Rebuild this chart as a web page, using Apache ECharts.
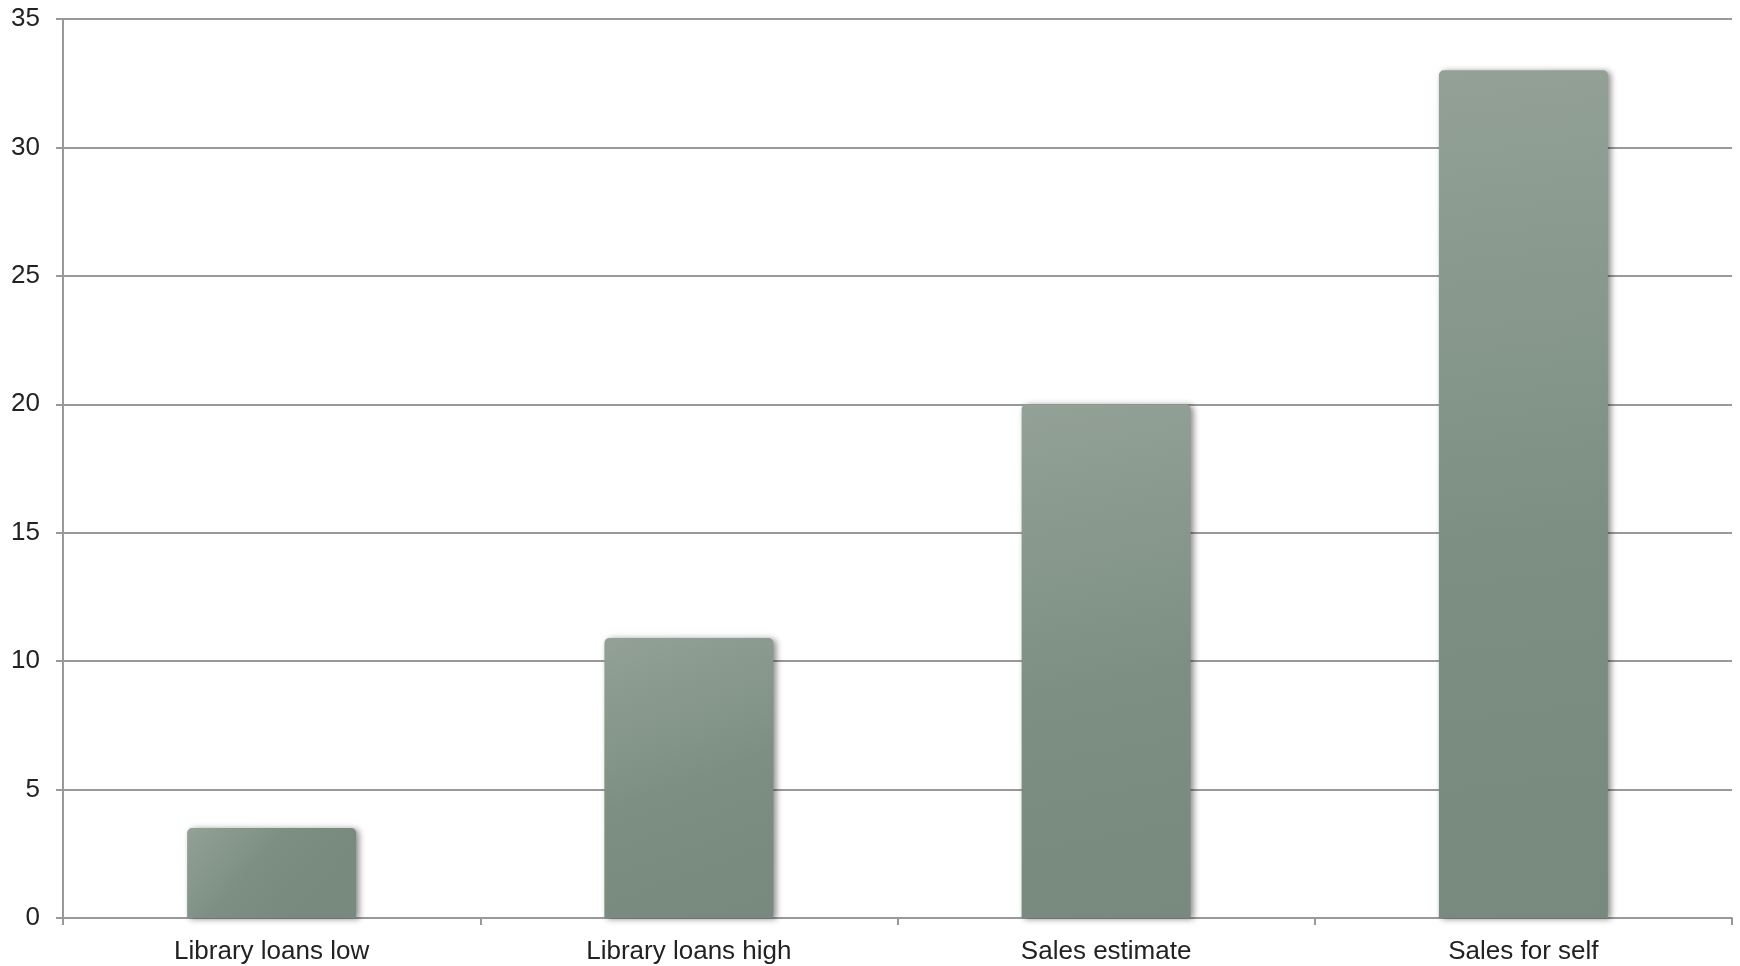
<!DOCTYPE html>
<html>
<head>
<meta charset="utf-8">
<script src="https://cdn.jsdelivr.net/npm/echarts@6/dist/echarts.min.js"></script>
<style>
html,body{margin:0;padding:0;background:#fff;}
#chart{width:1740px;height:966px;}
</style>
</head>
<body>
<div id="chart"></div>
<script>
const categories = ["Library loans low", "Library loans high", "Sales estimate", "Sales for self"];
const values = [3.5, 10.9, 20, 33];
const yTicks = [0, 5, 10, 15, 20, 25, 30, 35];

const chart = echarts.init(document.getElementById('chart'), null, {renderer: 'canvas'});
chart.setOption({
  animation: false,
  backgroundColor: '#ffffff',
  grid: {left: 63, right: 8, top: 19, bottom: 48, containLabel: false},
  xAxis: {
    type: 'category',
    data: categories,
    boundaryGap: true,
    axisLine: {show: true, lineStyle: {color: '#999999', width: 2}},
    axisTick: {show: true, alignWithLabel: false, length: 7, lineStyle: {color: '#999999', width: 2}},
    axisLabel: {color: '#222222', fontSize: 26, fontFamily: 'Liberation Sans, Arial, sans-serif', margin: 21}
  },
  yAxis: {
    type: 'value',
    min: yTicks[0],
    max: yTicks[yTicks.length - 1],
    interval: 5,
    axisLine: {show: true, lineStyle: {color: '#999999', width: 2}},
    axisTick: {show: true, length: 7, lineStyle: {color: '#999999', width: 2}},
    axisLabel: {color: '#222222', fontSize: 26, fontFamily: 'Liberation Sans, Arial, sans-serif', margin: 23},
    splitLine: {show: true, lineStyle: {color: '#999999', width: 2}}
  },
  series: [{
    type: 'bar',
    data: values,
    barWidth: '40.5%',
    itemStyle: {
      borderRadius: [5, 5, 0, 0],
      color: new echarts.graphic.LinearGradient(0, 0, 0.6, 1, [
        {offset: 0, color: '#93a197'},
        {offset: 0.55, color: '#7d8f83'},
        {offset: 1, color: '#788a7e'}
      ]),
      shadowColor: 'rgba(0,0,0,0.45)',
      shadowBlur: 6,
      shadowOffsetX: 3,
      shadowOffsetY: 1
    }
  }]
});
</script>
</body>
</html>
